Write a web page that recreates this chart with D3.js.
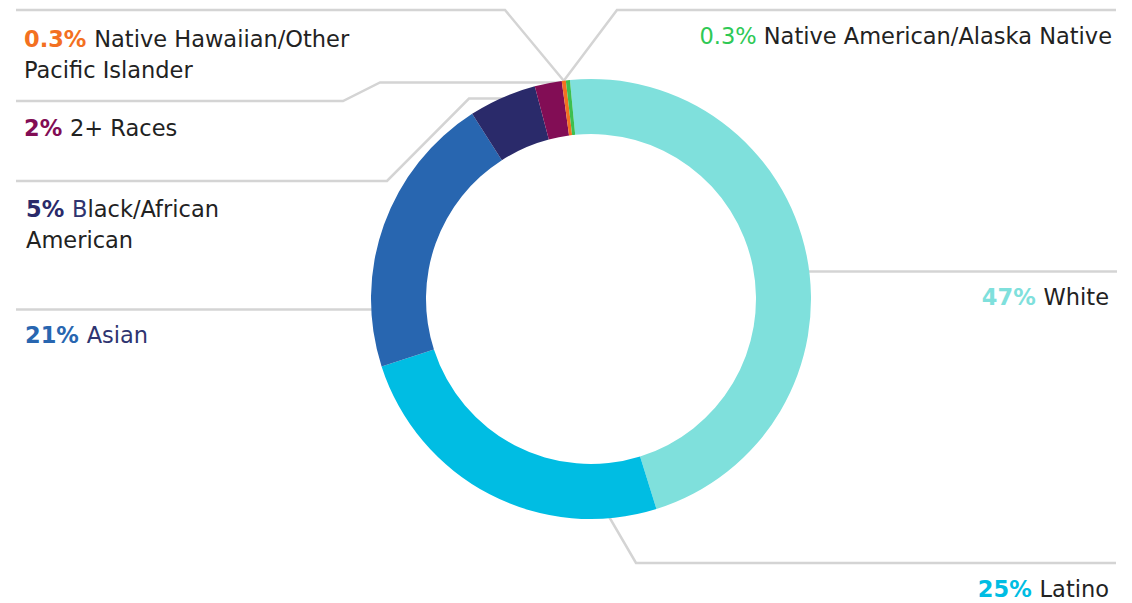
<!DOCTYPE html>
<html>
<head>
<meta charset="utf-8">
<script src="https://cdn.jsdelivr.net/npm/d3@7"></script>
<style>
  html, body { margin: 0; padding: 0; background: #fff; }
  svg text { font-family: "DejaVu Sans", sans-serif; }
</style>
</head>
<body>
<div id="chart"></div>
<script>
// data, clockwise from the top
const categories = ["White", "Latino", "Asian", "Black/African American", "2+ Races",
  "Native Hawaiian/Other Pacific Islander", "Native American/Alaska Native"]
const values = [47, 25, 21, 5, 2, 0.3, 0.3]
const pctLabels = ["47%", "25%", "21%", "5%", "2%", "0.3%", "0.3%"]
const colors = ["#7fe0dc", "#00bde3", "#2866b0", "#2a2a6a", "#820d55", "#f37021", "#3dbf4f"]

const width = 1132, height = 603
const cx = 591, cy = 299
const outerR = 220, innerR = 165
const start = -0.096

const svg = d3.select("#chart").append("svg")
  .attr("width", width)
  .attr("height", height)

const pie = d3.pie().sort(null).startAngle(start).endAngle(start + 2 * Math.PI)
const arcs = pie(values)
const arc = d3.arc().innerRadius(innerR).outerRadius(outerR)

// point on the outer edge in the middle of a slice
function edge(i, r) {
  const a = (arcs[i].startAngle + arcs[i].endAngle) / 2
  return [cx + r * Math.sin(a), cy - r * Math.cos(a)]
}

const tip = edge(5, outerR)

// leader lines (drawn under the ring)
const leaders = [
  [[16, 10], [505, 10], tip],
  [tip, [617, 10], [1116, 10]],
  [[16, 101], [343, 101], [380, 82.5], [565, 82.5]],
  [[16, 181], [387, 181], [469, 98.5], [540, 98.5]],
  [[16, 309.5], [400, 309.5]],
  [[780, 271.5], [1117, 271.5]],
  [[604, 508], [636, 563], [1116, 563]]
]

svg.append("g")
  .selectAll("path")
  .data(leaders)
  .join("path")
    .attr("d", d => d3.line()(d))
    .attr("fill", "none")
    .attr("stroke", "#d4d4d4")
    .attr("stroke-width", 2.5)

svg.append("g")
  .attr("transform", `translate(${cx},${cy})`)
  .selectAll("path")
  .data(arcs)
  .join("path")
    .attr("d", arc)
    .attr("fill", (d, i) => colors[i])

// labels: lines of [text, color, weight] pieces
const ink = "#222"
const labels = [
  {i: 0, x: 1109, y: 305, anchor: "end", lines: [[[pctLabels[0] + " ", colors[0], 700], ["White", ink, 400]]]},
  {i: 1, x: 1109, y: 597, anchor: "end", lines: [[[pctLabels[1] + " ", colors[1], 700], ["Latino", ink, 400]]]},
  {i: 2, x: 25, y: 343, anchor: "start", lines: [[[pctLabels[2] + " ", colors[2], 700], ["Asian", "#2e3470", 400]]]},
  {i: 3, x: 26, y: 217, anchor: "start", lines: [
    [[pctLabels[3] + " ", colors[3], 700], ["B", "#2e3470", 400], ["lack/African", ink, 400]],
    [["American", ink, 400]]]},
  {i: 4, x: 24, y: 136, anchor: "start", lines: [[[pctLabels[4] + " ", colors[4], 700], ["2+ Races", ink, 400]]]},
  {i: 5, x: 24, y: 47, anchor: "start", lines: [
    [[pctLabels[5] + " ", colors[5], 700], ["Native Hawaiian/Other", ink, 400]],
    [["Pacific Islander", ink, 400]]]},
  {i: 6, x: 1112, y: 44, anchor: "end", lines: [[[pctLabels[6] + " ", "#2ec955", 400], ["Native American/Alaska Native", ink, 400]]]}
]

const lineH = 31

labels.forEach(l => {
  l.lines.forEach((pieces, k) => {
    const t = svg.append("text")
      .attr("x", l.x)
      .attr("y", l.y + k * lineH)
      .attr("text-anchor", l.anchor)
      .style("font-size", "22.5px")
    pieces.forEach(p => {
      t.append("tspan")
        .attr("fill", p[1])
        .attr("font-weight", p[2])
        .text(p[0])
    })
  })
})
</script>
</body>
</html>
